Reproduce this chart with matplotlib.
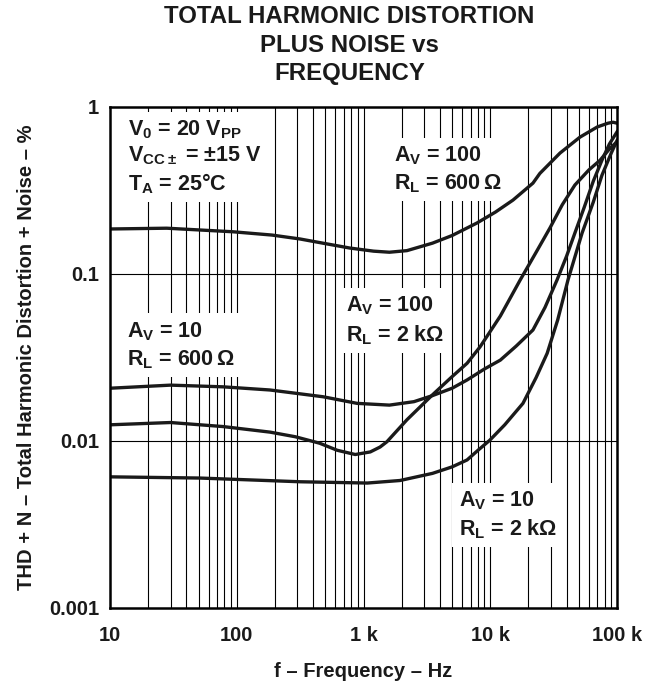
import matplotlib
matplotlib.use("Agg")
import matplotlib.pyplot as plt
from matplotlib.ticker import FixedLocator, NullFormatter

plt.rcParams["font.family"] = ["Liberation Sans", "DejaVu Sans"]
plt.rcParams["font.weight"] = "bold"
plt.rcParams["mathtext.fontset"] = "custom"
plt.rcParams["mathtext.rm"] = "Liberation Sans"
plt.rcParams["mathtext.default"] = "regular"

# Av = 100, RL = 600 ohm
freq_a100_600 = [10, 28, 93, 190, 316, 500, 780, 1200, 1600, 2200, 3500, 5000,
                 7850, 11000, 15100, 21700, 24600, 35500, 51000, 70000, 85000,
                 93000, 100000]
thd_a100_600 = [0.186, 0.188, 0.179, 0.171, 0.162, 0.152, 0.143, 0.137, 0.135,
                0.138, 0.153, 0.170, 0.202, 0.235, 0.277, 0.35, 0.40, 0.53,
                0.66, 0.76, 0.80, 0.81, 0.80]

# Av = 10, RL = 600 ohm
freq_a10_600 = [10, 30, 78, 183, 480, 890, 1600, 2500, 3500, 5000, 6560, 9000,
                12000, 16000, 21700, 27000, 33600, 40000, 46500, 55000, 65000,
                76000, 87000, 100000]
thd_a10_600 = [0.0207, 0.0216, 0.0211, 0.0202, 0.0184, 0.0168, 0.0164, 0.0172,
               0.0187, 0.0207, 0.0232, 0.027, 0.0305, 0.037, 0.0462, 0.063,
               0.092, 0.128, 0.176, 0.25, 0.36, 0.48, 0.60, 0.71]

# Av = 100, RL = 2 kohm
freq_a100_2k = [10, 30, 78, 183, 290, 450, 620, 860, 1130, 1350, 1530, 2200,
                3500, 5000, 6560, 8300, 12000, 17200, 23000, 29600, 37000,
                46500, 60000, 73500, 87000, 100000]
thd_a100_2k = [0.0125, 0.0129, 0.0122, 0.0113, 0.0106, 0.0097, 0.0088, 0.0083,
               0.0086, 0.0092, 0.0099, 0.0134, 0.0189, 0.0243, 0.0292, 0.0366,
               0.056, 0.092, 0.135, 0.189, 0.26, 0.341, 0.42, 0.48, 0.56, 0.62]

# Av = 10, RL = 2 kohm
freq_a10_2k = [10, 51, 316, 1070, 1940, 3500, 5000, 6560, 8000, 9900, 13000,
               18100, 23000, 28100, 34000, 41000, 47000, 53000, 65000, 76000,
               90000, 100000]
thd_a10_2k = [0.0061, 0.0060, 0.0057, 0.0056, 0.0058, 0.0064, 0.0070, 0.0077,
              0.0088, 0.0101, 0.0125, 0.0168, 0.024, 0.0335, 0.053, 0.092,
              0.13, 0.176, 0.27, 0.39, 0.53, 0.63]

x_ticks = [10, 100, 1000, 10000, 100000]
x_tick_labels = ["10", "100", "1 k", "10 k", "100 k"]
y_ticks = [0.001, 0.01, 0.1, 1]
y_tick_labels = ["0.001", "0.01", "0.1", "1"]

fig = plt.figure(figsize=(6.62, 6.81), dpi=100)
ax = fig.add_axes([0.1662, 0.1072, 0.7659, 0.7357])
ax.set_xscale("log")
ax.set_yscale("log")
ax.set_xlim(10, 100000)
ax.set_ylim(0.001, 1)

# grid: every decade subdivision vertically, only decades horizontally
vgrid = [m * 10 ** d for d in range(1, 5) for m in range(1, 10)][1:]
for xv in vgrid:
    ax.axvline(xv, color="black", lw=0.8, zorder=1)
for yv in [0.01, 0.1]:
    ax.axhline(yv, color="black", lw=0.8, zorder=1)

for f, t in [(freq_a100_600, thd_a100_600), (freq_a10_600, thd_a10_600),
             (freq_a100_2k, thd_a100_2k), (freq_a10_2k, thd_a10_2k)]:
    ax.plot(f, t, color="#1a1a1a", lw=2.4, zorder=3, solid_joinstyle="round")

ax.xaxis.set_major_locator(FixedLocator(x_ticks))
ax.xaxis.set_minor_locator(FixedLocator([]))
ax.xaxis.set_minor_formatter(NullFormatter())
ax.set_xticklabels(x_tick_labels)
ax.yaxis.set_major_locator(FixedLocator(y_ticks))
ax.yaxis.set_minor_locator(FixedLocator([]))
ax.set_yticklabels(y_tick_labels)
ax.tick_params(axis="both", length=0, labelsize=14.5, colors="#1a1a1a")
ax.tick_params(axis="x", pad=13)
ax.tick_params(axis="y", pad=8)
for s in ax.spines.values():
    s.set_linewidth(1.8)
    s.set_zorder(4)

ax.set_xlabel("f – Frequency – Hz", fontsize=14.5, fontweight="bold",
              labelpad=12, color="#1a1a1a")
ax.set_ylabel("THD + N – Total Harmonic Distortion + Noise – %", fontsize=14.5,
              fontweight="bold", labelpad=9, color="#1a1a1a")

fig.text(0.528, 0.993, "TOTAL HARMONIC DISTORTION\nPLUS NOISE vs\nFREQUENCY",
         ha="center", va="top", fontsize=17.3, fontweight="bold",
         linespacing=1.32, color="#1a1a1a")

box = dict(boxstyle="square,pad=0.3", facecolor="white", edgecolor="none")
notes = [
    (0.035, 0.978, 1.22,
     "V$_0$ = 20 V$_{PP}$\nV$_{CC\\pm}$ = $\\mathrm{\\pm}$15 V\nT$_A$ = 25°C"),
    (0.56, 0.926, 1.32, "A$_V$ = 100\nR$_L$ = 600$\\,\\mathrm{\\Omega}$"),
    (0.033, 0.575, 1.32, "A$_V$ = 10\nR$_L$ = 600$\\,\\mathrm{\\Omega}$"),
    (0.466, 0.625, 1.32, "A$_V$ = 100\nR$_L$ = 2 k$\\mathrm{\\Omega}$"),
    (0.688, 0.2375, 1.32, "A$_V$ = 10\nR$_L$ = 2 k$\\mathrm{\\Omega}$"),
]
for nx, ny, ls, txt in notes:
    ax.text(nx, ny, txt, transform=ax.transAxes, ha="left", va="top",
            fontsize=15.5, fontweight="bold", linespacing=ls, bbox=box,
            zorder=5, color="#1a1a1a")

fig.savefig("out.png", dpi=100)
